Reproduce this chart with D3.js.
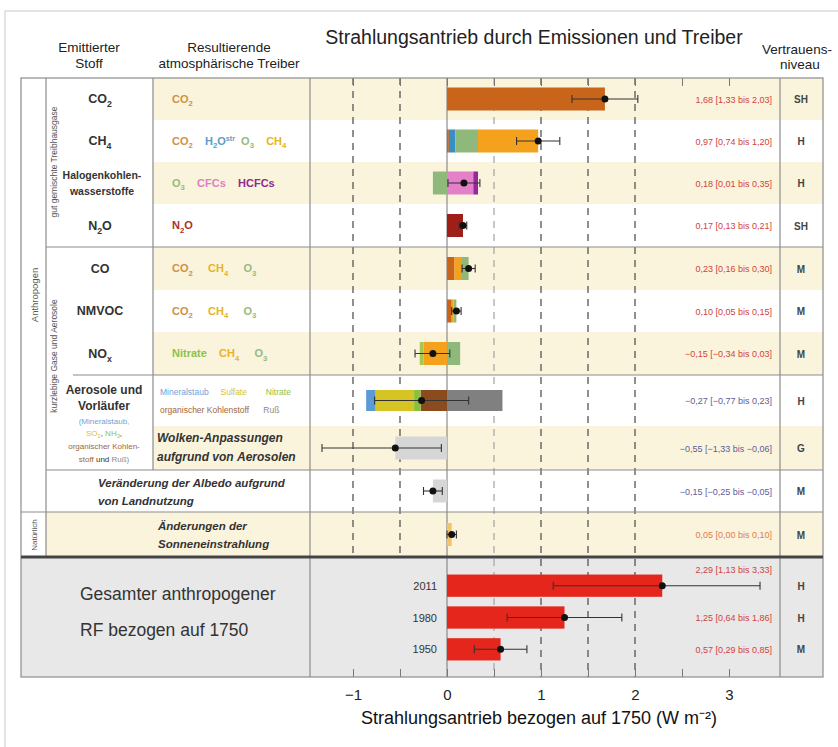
<!DOCTYPE html>
<html>
<head>
<meta charset="utf-8">
<script src="https://cdn.jsdelivr.net/npm/d3@7"></script>
<style>
  body { margin: 0; background: #fff; }
  text { font-family: "Liberation Sans", Arial, sans-serif; }
</style>
</head>
<body>
<div id="chart"></div>
<script>
var width = 838, height = 747;

// ---- data ----
var categories = ["CO2", "CH4", "Halogenkohlenwasserstoffe", "N2O", "CO", "NMVOC", "NOx",
                  "Aerosole", "Wolken", "Albedo", "Solar"];
var bestEstimate = [1.68, 0.97, 0.18, 0.17, 0.23, 0.10, -0.15, -0.27, -0.55, -0.15, 0.05];
var lowerBound   = [1.33, 0.74, 0.01, 0.13, 0.16, 0.05, -0.34, -0.77, -1.33, -0.25, 0.00];
var upperBound   = [2.03, 1.20, 0.35, 0.21, 0.30, 0.15, 0.03, 0.23, -0.06, -0.05, 0.10];
var confidence   = ["SH", "H", "H", "SH", "M", "M", "M", "H", "G", "M", "M"];

// stacked parts of each bar (negatives stacked outward from zero in list order)
var componentDrivers = [
  ["CO2"],
  ["CO2", "H2O", "O3", "CH4"],
  ["O3", "CFCs", "HCFCs"],
  ["N2O"],
  ["CO2", "CH4", "O3"],
  ["CO2", "CH4", "O3"],
  ["CH4", "NitratN", "O3"],
  ["OC", "Nitrat", "Sulfat", "Staub", "Russ"],
  ["Wolken"],
  ["Albedo"],
  ["Solar"]
];
var componentValues = [
  [1.68],
  [0.02, 0.07, 0.24, 0.64],
  [-0.15, 0.28, 0.05],
  [0.17],
  [0.08, 0.07, 0.08],
  [0.05, 0.02, 0.03],
  [-0.25, -0.04, 0.14],
  [-0.28, -0.07, -0.41, -0.10, 0.59],
  [-0.55],
  [-0.15],
  [0.05]
];

var years = ["2011", "1980", "1950"];
var totalValues = [2.29, 1.25, 0.57];
var totalLower  = [1.13, 0.64, 0.29];
var totalUpper  = [3.33, 1.86, 0.85];
var totalConfidence = ["H", "H", "M"];

var axisTicks = [-1, 0, 1, 2, 3];
var gridLines = [-1, -0.5, 0.5, 1, 1.5, 2];

// ---- colours ----
var driverColor = {
  CO2: "#c8651b", H2O: "#3b8ec2", O3: "#8fb97a", CH4: "#f4a21d",
  CFCs: "#e47fc9", HCFCs: "#96289a", N2O: "#9e1f17", NitratN: "#a6c84e",
  OC: "#8a4b1f", Nitrat: "#86c03c", Sulfat: "#d6c424", Staub: "#5b9bd5",
  Russ: "#808080", Wolken: "#d6d6d6", Albedo: "#d6d6d6", Solar: "#f3c46a"
};
var textCol = {
  CO2: "#cf9146", H2O: "#5a9ccc", O3: "#93bb80", CH4: "#e8b324",
  CFCs: "#e07fc6", HCFCs: "#8e2a91", N2O: "#a8322a", Nitrat: "#8dc24a",
  Staub: "#6ea3d8", Sulfat: "#d2c23a", OC: "#a0673a", Russ: "#8a8a8a"
};
var yellow = "#fbf4dc", gray = "#e8e8e8", lineCol = "#8c8c8c";
var sp = "\u00A0";   // non-collapsing space

var svg = d3.select("#chart").append("svg").attr("width", width).attr("height", height);

// layout
var L = 21, R = 823, T = 78, B = 677;
var c1 = 46, c2 = 153, c3 = 310, c4 = 780;
var rowEdges = [78, 120, 162, 204, 247, 290, 332, 375, 426, 470, 512, 557];

var x = d3.scaleLinear().domain([-1, 3]).range([353, 729]);
var y = d3.scaleOrdinal().domain(categories)
  .range(rowEdges.slice(0, -1).map(function(e, i) { return (e + rowEdges[i + 1]) / 2; }));
var yTot = d3.scaleBand().domain(years).range([565, 670]).padding(0.3);

// rich text helper: parts = [[string, colour], ...], "_{..}" subscript, "^{..}" superscript
function rich(g, parts, px, py, fs, anchor, weight, style) {
  var t = g.append("text").attr("x", px).attr("y", py + fs * 0.35)
    .attr("font-size", fs).attr("text-anchor", anchor || "start")
    .attr("font-weight", weight || "normal").attr("font-style", style || "normal");
  var shift = 0;
  parts.forEach(function(p) {
    var re = /_\{([^}]*)\}|\^\{([^}]*)\}|([^_^]+)/g, m;
    while ((m = re.exec(p[0])) !== null) {
      var ts = t.append("tspan").attr("fill", p[1]);
      if (m[1] !== undefined) {
        ts.attr("font-size", fs * 0.7).attr("dy", fs * 0.3 - shift).text(m[1]); shift = fs * 0.3;
      } else if (m[2] !== undefined) {
        ts.attr("font-size", fs * 0.65).attr("dy", -fs * 0.35 - shift).text(m[2]); shift = -fs * 0.35;
      } else {
        ts.attr("dy", -shift).text(m[3].replace(/ /g, sp)); shift = 0;
      }
    }
  });
  return t;
}

// outer page frame
svg.append("path").attr("d", "M5,747V11H838").attr("fill", "none").attr("stroke", "#dcdcdc").attr("stroke-width", 1.5);

// ---- backgrounds ----
var bg = svg.append("g");
categories.forEach(function(c, i) {
  if (i % 2 === 0) {
    var x0 = i >= 9 ? c1 : c2;
    bg.append("rect").attr("x", x0).attr("y", rowEdges[i]).attr("width", R - x0)
      .attr("height", rowEdges[i + 1] - rowEdges[i]).attr("fill", yellow);
  }
});
bg.append("rect").attr("x", L).attr("y", 557).attr("width", R - L).attr("height", B - 557).attr("fill", gray);

// ---- grid ----
var grid = svg.append("g");
gridLines.forEach(function(v) {
  grid.append("line").attr("x1", x(v)).attr("x2", x(v)).attr("y1", T).attr("y2", v < 0 ? 557 : B)
    .attr("stroke", v === 0.5 ? "#aaa" : "#555").attr("stroke-width", 1.3).attr("stroke-dasharray", "7,6");
});
grid.append("line").attr("x1", x(0)).attr("x2", x(0)).attr("y1", T).attr("y2", B)
  .attr("stroke", "#777").attr("stroke-width", 1);

// ---- bars ----
var barH = 23;
var bars = svg.append("g");
categories.forEach(function(c, i) {
  var pos = 0, neg = 0;
  var h = i === 7 ? 21 : barH;
  componentValues[i].forEach(function(v, j) {
    var a, b;
    if (v >= 0) { a = pos; b = pos + v; pos = b; } else { b = neg; a = neg + v; neg = a; }
    bars.append("rect").attr("x", x(a)).attr("y", y(c) - h / 2)
      .attr("width", x(b) - x(a)).attr("height", h)
      .attr("fill", driverColor[componentDrivers[i][j]]);
  });
});
years.forEach(function(yr, i) {
  bars.append("rect").attr("x", x(0)).attr("y", yTot(yr))
    .attr("width", x(totalValues[i]) - x(0)).attr("height", yTot.bandwidth())
    .attr("fill", "#e5261c");
});

// ---- whiskers ----
function whisker(lo, hi, best, cy) {
  var w = svg.append("g").attr("stroke", "#333").attr("stroke-width", 1.1);
  w.append("line").attr("x1", x(lo)).attr("x2", x(hi)).attr("y1", cy).attr("y2", cy);
  [lo, hi].forEach(function(v) {
    w.append("line").attr("x1", x(v)).attr("x2", x(v)).attr("y1", cy - 4).attr("y2", cy + 4);
  });
  svg.append("circle").attr("cx", x(best)).attr("cy", cy).attr("r", 3.5).attr("fill", "#111");
}
categories.forEach(function(c, i) { whisker(lowerBound[i], upperBound[i], bestEstimate[i], y(c)); });
years.forEach(function(yr, i) {
  whisker(totalLower[i], totalUpper[i], totalValues[i], yTot(yr) + yTot.bandwidth() / 2);
});

// ---- ticks / axis ----
var half = d3.range(-1, 3.01, 0.5);
svg.append("g").attr("transform", "translate(0," + T + ")")
  .call(d3.axisTop(x).tickValues(half).tickSize(-8).tickFormat(""))
  .call(function(g) { g.select(".domain").remove(); g.selectAll("line").attr("stroke", "#777"); });
svg.append("g").attr("transform", "translate(0," + B + ")")
  .call(d3.axisBottom(x).tickValues(half).tickSize(-8).tickFormat(""))
  .call(function(g) { g.select(".domain").remove(); g.selectAll("line").attr("stroke", "#777"); });
var ax = svg.append("g").attr("transform", "translate(0," + B + ")")
  .call(d3.axisBottom(x).tickValues(axisTicks).tickSize(0).tickPadding(12)
    .tickFormat(function(d) { return d < 0 ? "\u2212" + (-d) : d; }));
ax.select(".domain").remove();
ax.attr("font-family", "Liberation Sans, Arial, sans-serif").attr("font-size", 15);
ax.selectAll("text").attr("fill", "#222");

svg.append("text").attr("x", 539).attr("y", 724).attr("text-anchor", "middle")
  .attr("font-size", 18).attr("fill", "#111")
  .text("Strahlungsantrieb bezogen auf 1750 (W m\u207B\u00B2)");

// ---- table lines ----
var tl = svg.append("g").attr("stroke", lineCol).attr("stroke-width", 1.2);
function ln(x1, y1, x2, y2) { tl.append("line").attr("x1", x1).attr("y1", y1).attr("x2", x2).attr("y2", y2); }
tl.append("rect").attr("x", L).attr("y", T).attr("width", R - L).attr("height", B - T).attr("fill", "none");
ln(c1, T, c1, 557); ln(c2, T, c2, 470); ln(c3, T, c3, B); ln(c4, T, c4, B);
ln(c1, 247, R, 247); ln(73, 375, R, 375); ln(c1, 470, R, 470); ln(L, 512, R, 512);
svg.append("line").attr("x1", L).attr("x2", R).attr("y1", 557).attr("y2", 557)
  .attr("stroke", "#444").attr("stroke-width", 3);

// ---- headers ----
var hd = svg.append("g").attr("fill", "#222");
function htxt(t, px, py, fs) {
  hd.append("text").attr("x", px).attr("y", py).attr("text-anchor", "middle").attr("font-size", fs).text(t);
}
htxt("Strahlungsantrieb durch Emissionen und Treiber", 534, 44, 19.5);
htxt("Emittierter", 89, 52, 13.5); htxt("Stoff", 89, 68, 13.5);
htxt("Resultierende", 229, 52, 13.5); htxt("atmosphärische Treiber", 229, 68, 13.5);
htxt("Vertrauens-", 797, 54, 13.5); htxt("niveau", 800, 69, 13.5);

// ---- vertical group labels ----
function vtxt(t, px, py, fs) {
  svg.append("text").attr("transform", "translate(" + px + "," + py + ") rotate(-90)")
    .attr("text-anchor", "middle").attr("font-size", fs).attr("fill", "#555").text(t);
}
vtxt("Anthropogen", 38, 295, 9.5);
vtxt("gut gemischte Treibhausgase", 57, 162, 8.5);
vtxt("kurzlebige Gase und Aerosole", 57, 356, 8.5);
vtxt("Natürlich", 37, 535, 8);

// ---- emitted substances ----
var em = svg.append("g");
var dk = "#333";
rich(em, [["CO_{2}", dk]], 100, y("CO2"), 12.5, "middle", "bold");
rich(em, [["CH_{4}", dk]], 100, y("CH4"), 12.5, "middle", "bold");
rich(em, [["Halogenkohlen-", dk]], 102, 175, 10.5, "middle", "bold");
rich(em, [["wasserstoffe", dk]], 102, 191, 10.5, "middle", "bold");
rich(em, [["N_{2}O", dk]], 100, y("N2O"), 12.5, "middle", "bold");
rich(em, [["CO", dk]], 100, y("CO"), 12.5, "middle", "bold");
rich(em, [["NMVOC", dk]], 100, y("NMVOC"), 12.5, "middle", "bold");
rich(em, [["NO_{x}", dk]], 100, y("NOx"), 12.5, "middle", "bold");
rich(em, [["Aerosole und", dk]], 104, 390, 12, "middle", "bold");
rich(em, [["Vorläufer", dk]], 104, 406, 12, "middle", "bold");
rich(em, [["(Mineralstaub,", textCol.Staub]], 104, 421, 8, "middle");
rich(em, [["SO_{2}", textCol.Sulfat], [", ", dk], ["NH_{3}", textCol.Nitrat], [",", dk]], 104, 433, 8, "middle");
rich(em, [["organischer Kohlen-", textCol.OC]], 104, 446, 8, "middle");
rich(em, [["stoff", textCol.OC], [" und ", dk], ["Ruß)", textCol.Russ]], 104, 459, 8, "middle");

// ---- resulting drivers ----
var dr = svg.append("g");
var dx = 172, dfs = 11;
rich(dr, [["CO_{2}", textCol.CO2]], dx, y("CO2"), dfs, "start", "bold");
rich(dr, [["CO_{2}    ", textCol.CO2], ["H_{2}O^{str}  ", textCol.H2O], ["O_{3}    ", textCol.O3], ["CH_{4}", textCol.CH4]],
  dx, y("CH4"), dfs, "start", "bold");
rich(dr, [["O_{3}    ", textCol.O3], ["CFCs    ", textCol.CFCs], ["HCFCs", textCol.HCFCs]],
  dx, y("Halogenkohlenwasserstoffe"), dfs, "start", "bold");
rich(dr, [["N_{2}O", textCol.N2O]], dx, y("N2O"), dfs, "start", "bold");
rich(dr, [["CO_{2}     ", textCol.CO2], ["CH_{4}     ", textCol.CH4], ["O_{3}", textCol.O3]], dx, y("CO"), dfs, "start", "bold");
rich(dr, [["CO_{2}     ", textCol.CO2], ["CH_{4}     ", textCol.CH4], ["O_{3}", textCol.O3]], dx, y("NMVOC"), dfs, "start", "bold");
rich(dr, [["Nitrate    ", textCol.Nitrat], ["CH_{4}     ", textCol.CH4], ["O_{3}", textCol.O3]], dx, y("NOx"), dfs, "start", "bold");
rich(dr, [["Mineralstaub     ", textCol.Staub], ["Sulfate        ", textCol.Sulfat], ["Nitrate", textCol.Nitrat]],
  160, 392, 8.5, "start");
rich(dr, [["organischer Kohlenstoff      ", textCol.OC], ["Ruß", textCol.Russ]], 160, 410, 8.5, "start");
rich(dr, [["Wolken-Anpassungen", dk]], 157, 438, 12, "start", "bold", "italic");
rich(dr, [["aufgrund von Aerosolen", dk]], 157, 457, 12, "start", "bold", "italic");
rich(dr, [["Veränderung der Albedo aufgrund", dk]], 98, 483, 11.5, "start", "bold", "italic");
rich(dr, [["von Landnutzung", dk]], 98, 501, 11.5, "start", "bold", "italic");
rich(dr, [["Änderungen der", dk]], 158, 526, 11.5, "start", "bold", "italic");
rich(dr, [["Sonneneinstrahlung", dk]], 158, 544, 11.5, "start", "bold", "italic");

// ---- totals labels ----
svg.append("text").attr("x", 80).attr("y", 600).attr("font-size", 17.5).attr("fill", "#333")
  .text("Gesamter anthropogener");
svg.append("text").attr("x", 80).attr("y", 636).attr("font-size", 17.5).attr("fill", "#333")
  .text("RF bezogen auf 1750");
years.forEach(function(yr) {
  svg.append("text").attr("x", 437).attr("y", yTot(yr) + yTot.bandwidth() / 2 + 4)
    .attr("text-anchor", "end").attr("font-size", 11).attr("fill", "#333").text(yr);
});

// ---- value labels + confidence ----
var fmt = function(v) { return d3.format(".2f")(v).replace(".", ","); };
function valText(b, lo, hi) { return fmt(b) + " [" + fmt(lo) + " bis " + fmt(hi) + "]"; }
categories.forEach(function(c, i) {
  var col = bestEstimate[i] < 0 && i >= 7 ? "#5d5c9c" : (i === 10 ? "#e07b50" : "#d2433a");
  svg.append("text").attr("x", 772).attr("y", y(c) + 3.5).attr("text-anchor", "end")
    .attr("font-size", 9).attr("fill", col).text(valText(bestEstimate[i], lowerBound[i], upperBound[i]));
  svg.append("text").attr("x", 801).attr("y", y(c) + 4).attr("text-anchor", "middle")
    .attr("font-size", 10).attr("font-weight", "bold").attr("fill", "#444").text(confidence[i]);
});
years.forEach(function(yr, i) {
  var cy = yTot(yr) + yTot.bandwidth() / 2;
  svg.append("text").attr("x", 772).attr("y", (i === 0 ? cy - 16 : cy) + 3.5).attr("text-anchor", "end")
    .attr("font-size", 9).attr("fill", "#d2433a").text(valText(totalValues[i], totalLower[i], totalUpper[i]));
  svg.append("text").attr("x", 801).attr("y", cy + 4).attr("text-anchor", "middle")
    .attr("font-size", 10).attr("font-weight", "bold").attr("fill", "#444").text(totalConfidence[i]);
});
</script>
</body>
</html>
